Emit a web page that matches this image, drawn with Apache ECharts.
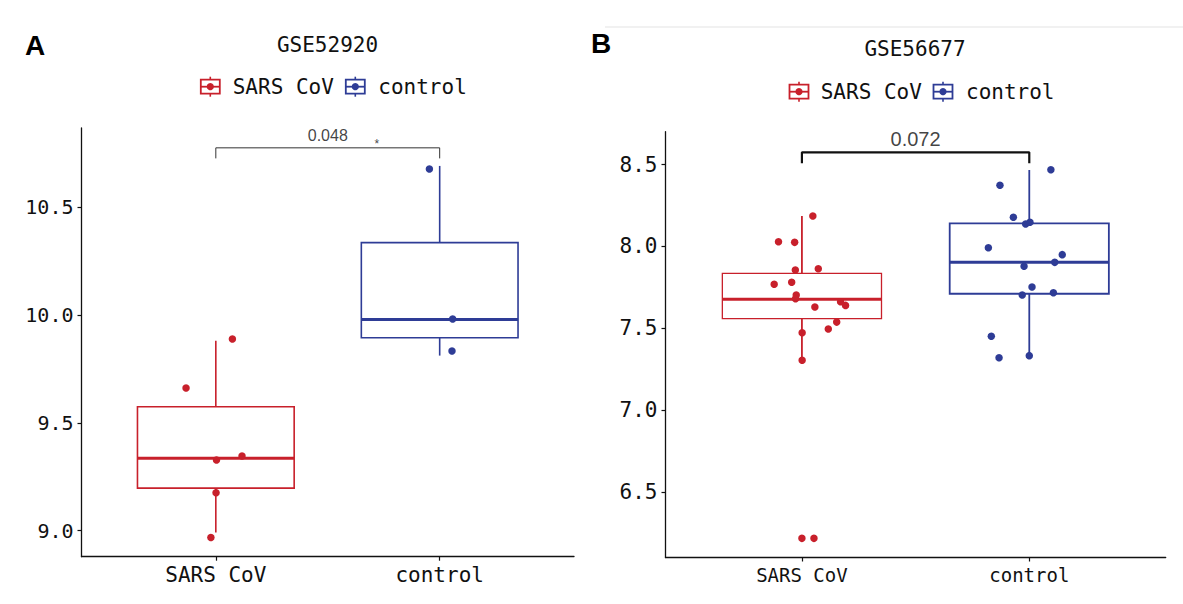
<!DOCTYPE html>
<html>
<head>
<meta charset="utf-8">
<script src="https://cdn.jsdelivr.net/npm/echarts@6/dist/echarts.min.js"></script>
<style>
html,body{margin:0;padding:0;background:#fff;}
#chart{width:1183px;height:604px;}
</style>
</head>
<body>
<div id="chart"></div>
<script>
// ---------- data ----------
const categories = ['SARS CoV', 'control'];
const titleA = 'GSE52920';
const titleB = 'GSE56677';
const yTicksA = [9.0, 9.5, 10.0, 10.5];
const yTicksB = [6.5, 7.0, 7.5, 8.0, 8.5];

// Panel A points (value) and horizontal jitter (category units)
const sarsA = [9.889, 9.662, 9.328, 9.346, 9.176, 8.968];
const sarsA_jitter = [0.074, -0.133, 0.003, 0.117, 0.001, -0.022];
const controlA = [10.678, 9.982, 9.833];
const controlA_jitter = [-0.046, 0.058, 0.055];
// box stats: [lower whisker, Q1, median, Q3, upper whisker]
const sarsA_box = [8.991, 9.197, 9.336, 9.575, 9.881];
const controlA_box = [9.812, 9.895, 9.980, 10.336, 10.692];
const pA = '0.048';
const starA = '*';
const bracketA = [10.776, 10.727]; // [bar level, tick bottom]

// Panel B
const sarsB = [8.186, 8.029, 8.025, 7.856, 7.864, 7.769, 7.781, 7.703, 7.681, 7.662, 7.640, 7.630, 7.538, 7.496, 7.473, 7.305, 6.217, 6.217];
const sarsB_jitter = [0.048, -0.103, -0.032, -0.029, 0.072, -0.122, -0.045, -0.025, -0.028, 0.170, 0.192, 0.057, 0.153, 0.116, 0.001, 0.001, 0.000, 0.053];
const controlB = [8.469, 8.374, 8.178, 8.137, 8.148, 7.992, 7.950, 7.879, 7.903, 7.752, 7.703, 7.717, 7.451, 7.320, 7.333];
const controlB_jitter = [0.095, -0.129, -0.070, -0.016, 0.003, -0.180, 0.145, -0.023, 0.112, 0.012, -0.031, 0.106, -0.167, -0.133, 0.000];
const sarsB_box = [7.305, 7.559, 7.677, 7.836, 8.186];
const controlB_box = [7.333, 7.711, 7.903, 8.141, 8.467];
const pB = '0.072';
const bracketB = [8.575, 8.508];

// ---------- styling ----------
const RED = '#c8202b';
const BLUE = '#2e3c96';
const MONO = '"DejaVu Sans Mono", "Liberation Mono", monospace';
const SANS = '"Liberation Sans", Arial, sans-serif';

function pts(vals, jit, catIdx) {
  return vals.map((v, i) => [catIdx + 1 + jit[i], v]);
}
function boxItem(stats, catIdx) {
  return [catIdx + 1].concat(stats);
}

function makeRender(boxLW, medLW, whiskLW) {
  return function (params, api) {
    const x = api.value(0);
    const lo = api.value(1), q1 = api.value(2), med = api.value(3), q3 = api.value(4), hi = api.value(5);
    const color = api.visual('color');
    const hw = 0.35;
    const lt = api.coord([x - hw, q3]);
    const rb = api.coord([x + hw, q1]);
    const ml = api.coord([x - hw, med]);
    const mr = api.coord([x + hw, med]);
    const pHi = api.coord([x, hi]), pQ3 = api.coord([x, q3]);
    const pQ1 = api.coord([x, q1]), pLo = api.coord([x, lo]);
    return {
      type: 'group',
      children: [
        { type: 'line', shape: { x1: pHi[0], y1: pHi[1], x2: pQ3[0], y2: pQ3[1] }, style: { stroke: color, lineWidth: whiskLW } },
        { type: 'line', shape: { x1: pQ1[0], y1: pQ1[1], x2: pLo[0], y2: pLo[1] }, style: { stroke: color, lineWidth: whiskLW } },
        { type: 'rect', shape: { x: lt[0], y: lt[1], width: rb[0] - lt[0], height: rb[1] - lt[1] }, style: { fill: 'rgba(255,255,255,0)', stroke: color, lineWidth: boxLW } },
        { type: 'line', shape: { x1: ml[0], y1: ml[1], x2: mr[0], y2: mr[1] }, style: { stroke: color, lineWidth: medLW } }
      ]
    };
  };
}

function xAxisCfg(gridIndex, fontSize) {
  return {
    type: 'value', gridIndex: gridIndex, min: 0.4, max: 2.6,
    splitLine: { show: false },
    axisLine: { show: true, onZero: false, lineStyle: { color: '#111', width: 1.3 } },
    axisTick: { show: true, length: 4, lineStyle: { color: '#111', width: 1.2 }, customValues: [1, 2] },
    axisLabel: {
      customValues: [1, 2], margin: 8, color: '#111', fontFamily: MONO, fontSize: fontSize,
      formatter: v => categories[Math.round(v) - 1]
    }
  };
}
function yAxisCfg(gridIndex, min, max, ticks, fontSize) {
  return {
    type: 'value', gridIndex: gridIndex, min: min, max: max,
    splitLine: { show: false },
    axisLine: { show: true, onZero: false, lineStyle: { color: '#111', width: 1.3 } },
    axisTick: { show: true, length: 4, lineStyle: { color: '#111', width: 1.2 }, customValues: ticks },
    axisLabel: {
      customValues: ticks, margin: 8, color: '#111', fontFamily: MONO, fontSize: fontSize,
      formatter: v => v.toFixed(1)
    }
  };
}

function legendGroup(cy, items) {
  const children = [];
  items.forEach(it => {
    const cx = it.x;
    children.push({ type: 'line', shape: { x1: cx, y1: cy - 10, x2: cx, y2: cy + 10 }, style: { stroke: it.color, lineWidth: 1.6 } });
    children.push({ type: 'rect', shape: { x: cx - 9.5, y: cy - 7, width: 19, height: 14 }, style: { fill: '#fff', stroke: it.color, lineWidth: 1.8 } });
    children.push({ type: 'line', shape: { x1: cx - 9.5, y1: cy, x2: cx + 9.5, y2: cy }, style: { stroke: it.color, lineWidth: 1.8 } });
    children.push({ type: 'circle', shape: { cx: cx, cy: cy, r: 3.6 }, style: { fill: it.color } });
    children.push({ type: 'text', x: it.tx, y: cy, style: { text: it.label, fill: '#111', font: '21px ' + MONO, textAlign: 'left', textVerticalAlign: 'middle' } });
  });
  return { type: 'group', silent: true, children: children };
}

function labelSeries(xi, yi, data, fontSize, family, dist) {
  return {
    type: 'scatter', xAxisIndex: xi, yAxisIndex: yi, symbolSize: 0.1,
    itemStyle: { color: 'rgba(0,0,0,0)' }, silent: true, z: 5,
    label: { show: true, position: 'top', distance: dist, color: '#111', fontSize: fontSize, fontFamily: family, formatter: p => p.data[2] },
    data: data
  };
}

const chart = echarts.init(document.getElementById('chart'), null, { renderer: 'svg', width: 1183, height: 604 });

const option = {
  animation: false,
  backgroundColor: '#fff',
  grid: [
    { left: 81.5, top: 128, width: 492.5, height: 428.7 },
    { left: 665.5, top: 131.7, width: 500.2, height: 425.8 }
  ],
  xAxis: [xAxisCfg(0, 21), xAxisCfg(1, 19)],
  yAxis: [yAxisCfg(0, 8.879, 10.868, yTicksA, 20), yAxisCfg(1, 6.100, 8.701, yTicksB, 21)],
  series: [
    { type: 'custom', name: 'SARS CoV', xAxisIndex: 0, yAxisIndex: 0, itemStyle: { color: RED }, renderItem: makeRender(1.6, 3, 1.6), encode: { x: 0, y: [1, 2, 3, 4, 5] }, data: [boxItem(sarsA_box, 0)], z: 2 },
    { type: 'custom', name: 'control', xAxisIndex: 0, yAxisIndex: 0, itemStyle: { color: BLUE }, renderItem: makeRender(1.6, 3, 1.6), encode: { x: 0, y: [1, 2, 3, 4, 5] }, data: [boxItem(controlA_box, 1)], z: 2 },
    { type: 'scatter', xAxisIndex: 0, yAxisIndex: 0, symbolSize: 7.5, itemStyle: { color: RED, opacity: 1 }, data: pts(sarsA, sarsA_jitter, 0), z: 3 },
    { type: 'scatter', xAxisIndex: 0, yAxisIndex: 0, symbolSize: 7.5, itemStyle: { color: BLUE, opacity: 1 }, data: pts(controlA, controlA_jitter, 1), z: 3 },
    { type: 'line', xAxisIndex: 0, yAxisIndex: 0, showSymbol: false, symbol: 'none', lineStyle: { color: '#333', width: 1 },
      data: [[1, bracketA[1]], [1, bracketA[0]], [2, bracketA[0]], [2, bracketA[1]]], z: 4 },
    labelSeries(0, 0, [[1.5, bracketA[0], pA]], 16, SANS, 4),
    labelSeries(0, 0, [[1.719, bracketA[0], starA]], 12, SANS, -2),

    { type: 'custom', name: 'SARS CoV', xAxisIndex: 1, yAxisIndex: 1, itemStyle: { color: RED }, renderItem: makeRender(1.3, 3, 1.8), encode: { x: 0, y: [1, 2, 3, 4, 5] }, data: [boxItem(sarsB_box, 0)], z: 2 },
    { type: 'custom', name: 'control', xAxisIndex: 1, yAxisIndex: 1, itemStyle: { color: BLUE }, renderItem: makeRender(1.8, 3, 1.8), encode: { x: 0, y: [1, 2, 3, 4, 5] }, data: [boxItem(controlB_box, 1)], z: 2 },
    { type: 'scatter', xAxisIndex: 1, yAxisIndex: 1, symbolSize: 7.5, itemStyle: { color: RED, opacity: 1 }, data: pts(sarsB, sarsB_jitter, 0), z: 3 },
    { type: 'scatter', xAxisIndex: 1, yAxisIndex: 1, symbolSize: 7.5, itemStyle: { color: BLUE, opacity: 1 }, data: pts(controlB, controlB_jitter, 1), z: 3 },
    { type: 'line', xAxisIndex: 1, yAxisIndex: 1, showSymbol: false, symbol: 'none', lineStyle: { color: '#111', width: 2.2 },
      data: [[1, bracketB[1]], [1, bracketB[0]], [2, bracketB[0]], [2, bracketB[1]]], z: 4 },
    labelSeries(1, 1, [[1.5, bracketB[0], pB]], 20, SANS, 3)
  ],
  graphic: [
    { type: 'line', silent: true, shape: { x1: 605, y1: 27, x2: 1183, y2: 27 }, style: { stroke: '#f1f1f1', lineWidth: 2 } },
    { type: 'text', silent: true, x: 35, y: 45, style: { text: 'A', fill: '#000', font: 'bold 28px ' + SANS, textAlign: 'center', textVerticalAlign: 'middle' } },
    { type: 'text', silent: true, x: 601, y: 43, style: { text: 'B', fill: '#000', font: 'bold 28px ' + SANS, textAlign: 'center', textVerticalAlign: 'middle' } },
    { type: 'text', silent: true, x: 327.5, y: 44.7, style: { text: titleA, fill: '#111', font: '21px ' + MONO, textAlign: 'center', textVerticalAlign: 'middle' } },
    { type: 'text', silent: true, x: 915, y: 49.3, style: { text: titleB, fill: '#111', font: '21px ' + MONO, textAlign: 'center', textVerticalAlign: 'middle' } },
    legendGroup(86.7, [
      { x: 210.3, tx: 232.7, color: RED, label: categories[0] },
      { x: 355.3, tx: 378.3, color: BLUE, label: categories[1] }
    ]),
    legendGroup(91.7, [
      { x: 799, tx: 820.7, color: RED, label: categories[0] },
      { x: 943, tx: 966, color: BLUE, label: categories[1] }
    ])
  ]
};
chart.setOption(option);
</script>
</body>
</html>
